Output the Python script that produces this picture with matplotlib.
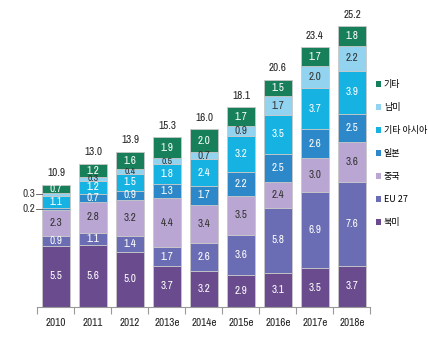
import numpy as np
import matplotlib.pyplot as plt

years = ['2010', '2011', '2012', '2013e', '2014e', '2015e', '2016e', '2017e', '2018e']
totals = [10.9, 13.0, 13.9, 15.3, 16.0, 18.1, 20.6, 23.4, 25.2]

north_america = [5.5, 5.6, 5.0, 3.7, 3.2, 2.9, 3.1, 3.5, 3.7]
eu27 = [0.9, 1.1, 1.4, 1.7, 2.6, 3.6, 5.8, 6.9, 7.6]
china = [2.3, 2.8, 3.2, 4.4, 3.4, 3.5, 2.4, 3.0, 3.6]
japan = [0.2, 0.7, 0.9, 1.3, 1.7, 2.2, 2.5, 2.6, 2.5]
other_asia = [1.1, 1.2, 1.5, 1.8, 2.4, 3.2, 3.5, 3.7, 3.9]
south_america = [0.3, 0.3, 0.4, 0.5, 0.7, 0.9, 1.7, 2.0, 2.2]
other = [0.7, 1.2, 1.6, 1.9, 2.0, 1.7, 1.5, 1.7, 1.8]

series = [
    ('북미', north_america, '#6a4c8e', 'white'),
    ('EU 27', eu27, '#6a6db3', 'white'),
    ('중국', china, '#b9a6d3', '#333333'),
    ('일본', japan, '#2c88c9', 'white'),
    ('기타 아시아', other_asia, '#16b3e2', 'white'),
    ('남미', south_america, '#92d3ef', '#333333'),
    ('기타', other, '#17805a', 'white'),
]

plt.rcParams['font.family'] = ['Archivo Narrow', 'Liberation Sans', 'Noto Sans CJK KR', 'DejaVu Sans']

fig = plt.figure(figsize=(4.28, 3.41), dpi=100)
ax = fig.add_axes([0.0876, 0.0997, 0.778, 0.900])

x = np.arange(len(years))
bottom = np.zeros(len(years))
for name, vals, color, tcolor in series:
    vals = np.array(vals)
    ax.bar(x, vals, 0.76, bottom=bottom, color=color,
           edgecolor='#c8c8c8', linewidth=0.6, label=name)
    for i, v in enumerate(vals):
        yc = bottom[i] + v / 2
        if i == 0 and v < 0.5:
            # tiny segments get an outside label with a leader line
            ax.plot([x[i] - 0.38 - 0.17, x[i] - 0.38], [yc, yc],
                    color='#555555', lw=0.6, clip_on=False)
            ax.text(x[i] - 0.57, yc, f'{v:.1f}', ha='right', va='center',
                    fontsize=8, color='#333333')
        else:
            fs = 7 if v < 0.6 else 8
            ax.text(x[i], yc, f'{v:.1f}', ha='center', va='center',
                    fontsize=fs, color=tcolor)
    bottom += vals

for i, t in enumerate(totals):
    ax.text(x[i], bottom[i] + 0.6, f'{t:.1f}', ha='center', va='bottom',
            fontsize=8, color='#222222')

ax.set_xlim(-0.5, len(years) - 0.5)
ax.set_ylim(0, 27.66)
ax.set_yticks([])
ax.set_xticks(x)
ax.set_xticklabels(years, fontsize=8, color='#222222')
ax.set_xticks(np.arange(-0.5, len(years)), minor=True)
ax.tick_params(axis='x', which='major', length=0, pad=8)
ax.tick_params(axis='x', which='minor', length=5, color='#999999', width=0.8)
for s in ['top', 'right', 'left']:
    ax.spines[s].set_visible(False)
ax.spines['bottom'].set_color('#999999')
ax.spines['bottom'].set_linewidth(0.8)

handles, labels = ax.get_legend_handles_labels()
leg = fig.legend(handles[::-1], labels[::-1], loc='upper left',
                 bbox_to_anchor=(0.87, 0.775), frameon=False,
                 prop={'family': ['Noto Sans CJK KR', 'Archivo Narrow'], 'size': 6.5},
                 handlelength=0.55, handleheight=0.55, handletextpad=0.3,
                 labelspacing=1.55, borderaxespad=0)
for h in leg.legend_handles:
    h.set_edgecolor('none')

fig.savefig('out.png', dpi=100)
